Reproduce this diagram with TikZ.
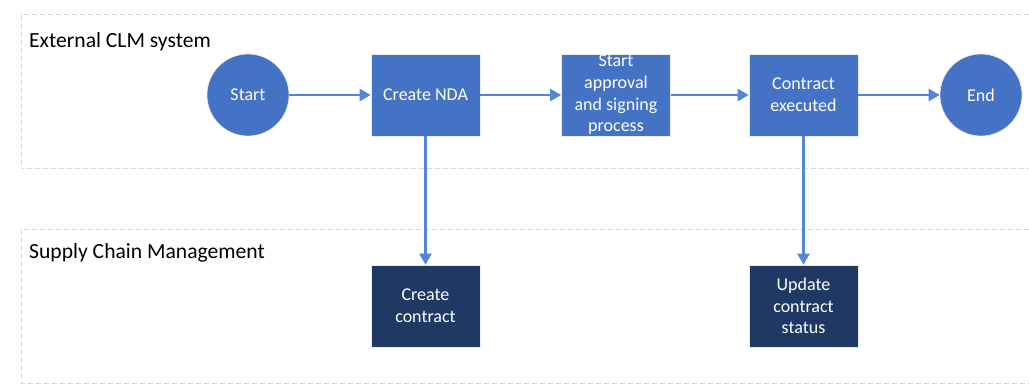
\documentclass[tikz,border=0pt]{standalone}
\usepackage{fontspec}
\setmainfont{Carlito}
\usetikzlibrary{arrows.meta}
\definecolor{boxblue}{HTML}{4472C4}
\definecolor{darkblue}{HTML}{203864}
\definecolor{lineblue}{HTML}{5585D6}
\definecolor{lanegray}{HTML}{D9D9D9}
\begin{document}
\begin{tikzpicture}[x=1pt,y=-1pt,
  lane/.style={draw=lanegray,line width=1pt,dash pattern=on 5pt off 3pt},
  lanelabel/.style={anchor=west,font=\fontsize{21.6}{25}\selectfont,text=black,inner sep=0pt},
  proc/.style={draw=white!85!gray,line width=0.6pt,fill=boxblue,text=white,minimum width=109pt,minimum height=82pt,inner sep=0pt,align=center,font=\fontsize{18}{21.7}\selectfont},
  dproc/.style={proc,fill=darkblue},
  term/.style={circle,draw=white!85!gray,line width=0.6pt,fill=boxblue,text=white,minimum size=82pt,inner sep=0pt,font=\fontsize{18}{21.7}\selectfont},
  conn/.style={draw=lineblue,line width=2.2pt,-{Triangle[length=11pt,width=12pt]}}
]
\useasboundingbox (0,0) rectangle (1029,385);
\fill[white] (0,0) rectangle (1029,385);
% lanes
\draw[lane] (1029,15) -- (21,15) -- (21,169) -- (1029,169);
\draw[lane] (1029,230) -- (21,230) -- (21,383) -- (1029,383);
\node[lanelabel] (l1) at (29,42) {External CLM system};
\node[lanelabel] (l2) at (29,253) {Supply Chain Management};
% nodes
\node[term] (start) at (248,95) {Start};
\node[proc] (nda) at (425.5,95) {Create NDA};
\node[proc] (appr) at (616,95) {Start\\approval\\and signing\\process};
\node[proc] (exec) at (803.5,95) {Contract\\executed};
\node[term] (end) at (981,95) {End};
\node[dproc] (cc) at (425.5,306) {Create\\contract};
\node[dproc] (upd) at (803.5,306) {Update\\contract\\status};
% connectors
\draw[conn] (start) -- (nda);
\draw[conn] (nda) -- (appr);
\draw[conn] (appr) -- (exec);
\draw[conn] (exec) -- (end);
\draw[conn] (nda) -- (cc);
\draw[conn] (exec) -- (upd);
\end{tikzpicture}
\end{document}
